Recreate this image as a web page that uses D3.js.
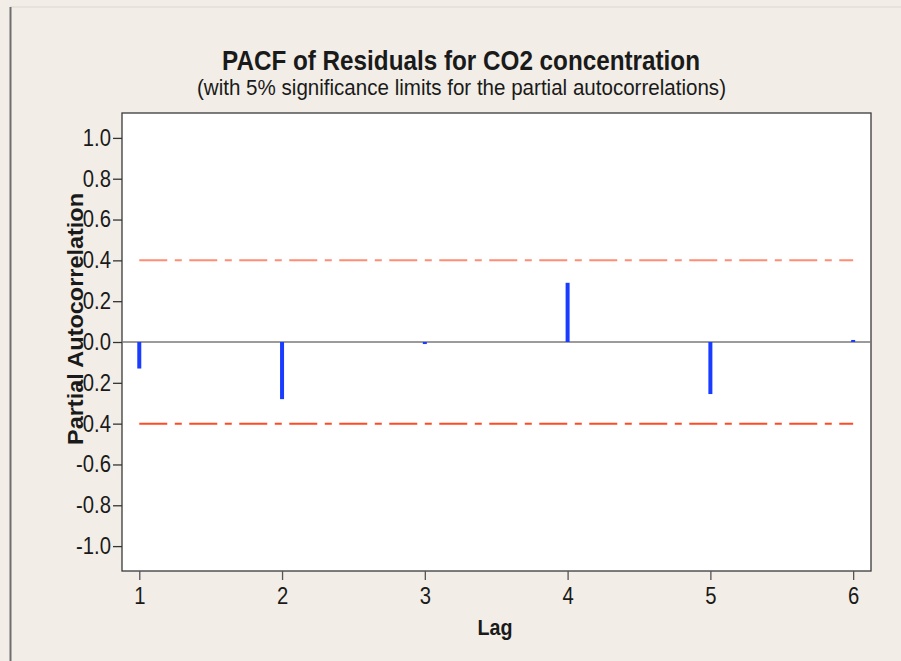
<!DOCTYPE html>
<html>
<head>
<meta charset="utf-8">
<script src="https://cdn.jsdelivr.net/npm/d3@7"></script>
<style>
  html, body { margin: 0; padding: 0; background: #f2eee7; }
  svg { display: block; }
  text { font-family: "Liberation Sans Narrow", "Liberation Sans", Arial, sans-serif; fill: #1a1a1a; }
</style>
</head>
<body>
<svg id="chart" width="901" height="661"></svg>
<script>
// ---- data ----
const lags = [1, 2, 3, 4, 5, 6];
const pacfValues = [-0.13, -0.28, -0.01, 0.29, -0.255, 0.01];
const upperLimit = [0.40, 0.40];
const lowerLimit = [-0.40, -0.40];
const yTickValues = [1.0, 0.8, 0.6, 0.4, 0.2, 0.0, -0.2, -0.4, -0.6, -0.8, -1.0];
const yTickLabels = ["1.0", "0.8", "0.6", "0.4", "0.2", "0.0", "-0.2", "-0.4", "-0.6", "-0.8", "-1.0"];
const xTickLabels = ["1", "2", "3", "4", "5", "6"];
const titleText = "PACF of Residuals for CO2 concentration";
const subtitleText = "(with 5% significance limits for the partial autocorrelations)";
const xTitle = "Lag";
const yTitle = "Partial Autocorrelation";

// ---- layout ----
const svg = d3.select("#chart");
const W = 901, H = 661;
const plot = { left: 122, top: 113, right: 871, bottom: 571 };

// page background and outer frame
svg.append("rect").attr("x", 0).attr("y", 0).attr("width", W).attr("height", H).attr("fill", "#f2eee7");
svg.append("line").attr("x1", 10).attr("x2", W).attr("y1", 7).attr("y2", 7)
  .attr("stroke", "#dcd8d0").attr("stroke-width", 1);
svg.append("line").attr("x1", 10.5).attr("x2", 10.5).attr("y1", 7).attr("y2", H)
  .attr("stroke", "#6e6e6e").attr("stroke-width", 2);

const x = d3.scaleLinear().domain([0.879, 6.125]).range([plot.left, plot.right]);
const y = d3.scaleLinear().domain([-1.122, 1.122]).range([plot.bottom, plot.top]);

// plot area
svg.append("rect")
  .attr("x", plot.left).attr("y", plot.top)
  .attr("width", plot.right - plot.left).attr("height", plot.bottom - plot.top)
  .attr("fill", "#ffffff").attr("stroke", "#3a3a3a").attr("stroke-width", 1.3);

function narrow(sel, factor) {
  sel.each(function () {
    const len = this.getComputedTextLength();
    d3.select(this).attr("textLength", len * factor).attr("lengthAdjust", "spacingAndGlyphs");
  });
}

// axes
const yAxis = d3.axisLeft(y)
  .tickValues(yTickValues)
  .tickFormat((d, i) => yTickLabels[i])
  .tickSize(9).tickPadding(2);
const gy = svg.append("g").attr("transform", `translate(${plot.left},0)`).call(yAxis);
gy.select(".domain").remove();
gy.selectAll(".tick line").attr("stroke", "#333").attr("stroke-width", 1.3);
gy.selectAll(".tick text")
  .style("font-family", "'Liberation Sans', Arial, sans-serif")
  .style("font-size", "23px").attr("fill", "#1a1a1a").call(narrow, 0.88);

const xAxis = d3.axisBottom(x)
  .tickValues(lags)
  .tickFormat((d, i) => xTickLabels[i])
  .tickSize(9).tickPadding(8);
const gx = svg.append("g").attr("transform", `translate(0,${plot.bottom})`).call(xAxis);
gx.select(".domain").remove();
gx.selectAll(".tick line").attr("stroke", "#555").attr("stroke-width", 1.3);
gx.selectAll(".tick text")
  .style("font-family", "'Liberation Sans', Arial, sans-serif")
  .style("font-size", "23px").attr("fill", "#1a1a1a").call(narrow, 0.88);

// zero line
svg.append("line")
  .attr("x1", plot.left).attr("x2", plot.right)
  .attr("y1", y(0)).attr("y2", y(0))
  .attr("stroke", "#7a7a7a").attr("stroke-width", 1.5);

// significance limits
const limitLine = d3.line().x((d, i) => x(i === 0 ? lags[0] : lags[lags.length - 1])).y(d => y(d));
svg.append("path").datum(upperLimit).attr("d", limitLine)
  .attr("fill", "none").attr("stroke", "#ff8c74").attr("stroke-width", 2)
  .attr("stroke-dasharray", "28,7.5,7,7.5");
svg.append("path").datum(lowerLimit).attr("d", limitLine)
  .attr("fill", "none").attr("stroke", "#ff4a26").attr("stroke-width", 2)
  .attr("stroke-dasharray", "28,7.5,7,7.5");

// PACF spikes
svg.append("g").selectAll("rect").data(pacfValues).join("rect")
  .attr("x", (d, i) => x(lags[i]) - 2)
  .attr("y", d => Math.min(y(d), y(0)))
  .attr("width", 4)
  .attr("height", d => Math.max(2, Math.abs(y(d) - y(0))))
  .attr("fill", "#1a3cff");

// titles
svg.append("text").attr("x", 461).attr("y", 70).attr("text-anchor", "middle")
  .style("font-size", "28px").style("font-weight", "bold")
  .attr("textLength", 478).attr("lengthAdjust", "spacingAndGlyphs")
  .text(titleText);
svg.append("text").attr("x", 461.5).attr("y", 95).attr("text-anchor", "middle")
  .style("font-size", "21.5px")
  .attr("textLength", 529).attr("lengthAdjust", "spacingAndGlyphs")
  .text(subtitleText);
svg.append("text").attr("x", 495).attr("y", 635).attr("text-anchor", "middle")
  .style("font-family", "'Liberation Sans', Arial, sans-serif")
  .style("font-size", "22px").style("font-weight", "bold")
  .attr("textLength", 35).attr("lengthAdjust", "spacingAndGlyphs")
  .text(xTitle);
svg.append("text")
  .attr("transform", `translate(83,319) rotate(-90)`)
  .attr("text-anchor", "middle")
  .style("font-family", "'Liberation Sans', Arial, sans-serif")
  .style("font-size", "22px").style("font-weight", "bold")
  .attr("textLength", 252).attr("lengthAdjust", "spacingAndGlyphs")
  .text(yTitle);
</script>
</body>
</html>
